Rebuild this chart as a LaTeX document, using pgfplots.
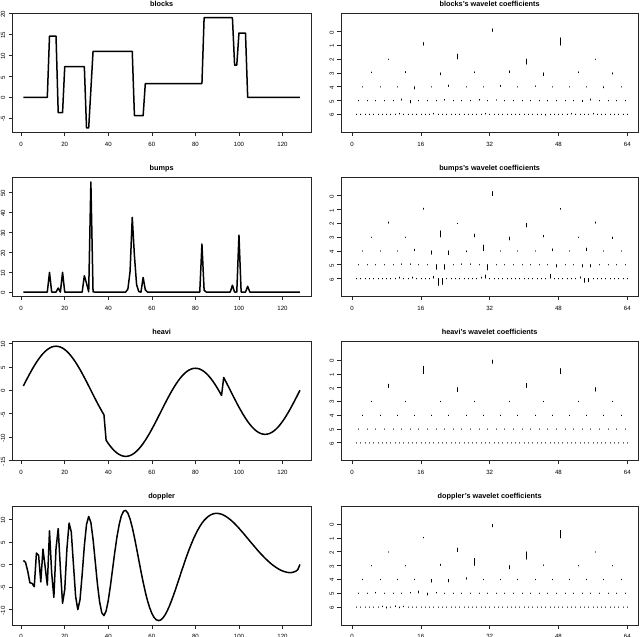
\documentclass[border=0pt]{standalone}
\usepackage{fontspec}
\setmainfont{Liberation Sans}
\usepackage{pgfplots}
\usepackage{pgfplotstable}
\pgfplotsset{compat=1.18}

% wavelet coefficients: position, level, then one column per signal
\pgfplotstableread{
x lev vb vu vh vd
32.5 0 -0.2 -0.3 0.25 0.2
16.5 1 -0.2 -0.1 -0.55 -0.05
48.5 1 -0.55 -0.08 -0.38 -0.55
8.5 2 0.04 -0.1 -0.25 0.04
24.5 2 -0.37 0.04 0.3 -0.27
40.5 2 0.38 0.28 -0.3 0.55
56.5 2 0.04 -0.1 0.27 0.04
4.5 3 -0.06 0.04 0.04 0.04
12.5 3 -0.1 0.04 0.04 0.04
20.5 3 0.15 -0.45 0.04 -0.1
28.5 3 -0.08 -0.22 0.04 -0.52
36.5 3 -0.15 0.22 0.04 0.25
44.5 3 0.22 -0.12 0.04 -0.06
52.5 3 -0.08 0.04 0.04 0.04
60.5 3 0.1 0.12 0.04 0.04
2.5 4 0.04 0.04 0.04 0.04
6.5 4 0.04 0.04 0.04 0.04
10.5 4 0.04 0.04 0.04 0.04
14.5 4 0.18 -0.12 0.04 0.04
18.5 4 0.04 0.25 0.04 0.22
22.5 4 -0.12 0.28 0.04 0.2
26.5 4 0.04 0.08 0.04 -0.12
30.5 4 0.04 -0.42 0.04 0.04
34.5 4 -0.1 0.04 0.04 0.04
38.5 4 0.04 0.04 0.04 0.04
42.5 4 -0.06 0.04 0.04 0.04
46.5 4 0.04 -0.15 0.04 0.04
50.5 4 0.04 0.04 0.04 0.04
54.5 4 0.04 -0.2 0.04 0.04
58.5 4 0.1 0.04 0.04 0.04
62.5 4 0.04 0.04 0.04 0.04
1.5 5 0.04 0.04 0.04 0.04
3.5 5 0.04 0.04 0.04 0.04
5.5 5 0.04 0.04 0.04 -0.06
7.5 5 0.04 0.04 0.04 0.04
9.5 5 0.04 0.04 0.04 0.04
11.5 5 -0.1 -0.06 0.04 0.04
13.5 5 0.2 -0.06 0.04 -0.06
15.5 5 0.04 0.04 0.04 -0.15
17.5 5 0.04 0.04 0.04 0.15
19.5 5 0.04 0.35 0.04 -0.05
21.5 5 -0.08 0.35 0.04 0.04
23.5 5 0.04 0.04 0.04 0.04
25.5 5 0.04 -0.06 0.04 0.04
27.5 5 0.04 -0.06 0.04 0.04
29.5 5 -0.08 0.04 0.04 0.04
31.5 5 0.04 0.4 0.04 0.04
33.5 5 -0.05 0.04 0.04 0.04
35.5 5 0.04 0.04 0.04 0.04
37.5 5 0.04 0.04 0.04 0.04
39.5 5 0.04 0.04 0.04 0.04
41.5 5 0.04 0.04 0.04 0.04
43.5 5 0.04 0.04 0.04 0.04
45.5 5 0.05 0.04 0.04 0.04
47.5 5 0.04 0.18 0.04 0.04
49.5 5 0.04 0.04 0.04 0.04
51.5 5 0.04 0.04 0.04 0.04
53.5 5 0.1 0.18 0.04 0.04
55.5 5 -0.1 0.18 0.04 0.04
57.5 5 0.04 0.04 0.04 0.04
59.5 5 0.04 0.04 0.04 0.04
61.5 5 0.04 0.04 0.04 0.04
63.5 5 0.04 0.04 0.04 0.04
1 6 0.04 0.04 0.04 0.04
2 6 0.04 0.04 0.04 0.04
3 6 0.04 0.04 0.04 0.04
4 6 0.04 0.04 0.04 0.04
5 6 0.04 0.04 0.04 0.04
6 6 0.04 0.04 0.04 0.04
7 6 0.04 0.04 0.04 -0.06
8 6 0.04 0.04 0.04 0.1
9 6 0.04 0.04 0.04 0.04
10 6 0.04 0.04 0.04 -0.08
11 6 -0.06 -0.1 0.04 0.08
12 6 0.04 0.04 0.04 -0.05
13 6 0.04 0.04 0.04 0.04
14 6 0.04 -0.1 0.04 0.04
15 6 0.04 0.04 0.04 0.04
16 6 0.04 0.04 0.04 0.04
17 6 0.04 0.04 0.04 0.04
18 6 0.04 0.04 0.04 0.04
19 6 -0.06 -0.15 0.04 0.04
20 6 0.04 0.52 0.04 0.04
21 6 0.04 0.45 0.04 0.04
22 6 0.04 0.04 0.04 0.04
23 6 0.04 0.04 0.04 0.04
24 6 0.04 0.04 0.04 0.04
25 6 0.04 0.04 0.04 0.04
26 6 0.04 0.04 0.04 0.04
27 6 0.04 0.04 0.04 0.04
28 6 0.04 0.04 0.04 0.04
29 6 0.04 0.04 0.04 0.04
30 6 0.04 -0.1 0.04 0.04
31 6 -0.06 -0.25 0.04 0.04
32 6 0.04 0.04 0.04 0.04
33 6 0.04 0.04 0.04 0.04
34 6 0.04 0.04 0.04 0.04
35 6 0.04 0.04 0.04 0.04
36 6 0.04 0.04 0.04 0.04
37 6 0.04 0.04 0.04 0.04
38 6 0.04 0.04 0.04 0.04
39 6 0.04 0.04 0.04 0.04
40 6 0.04 0.04 0.04 0.04
41 6 0.04 0.04 0.04 0.04
42 6 0.04 0.04 0.04 0.04
43 6 0.04 0.04 0.04 0.04
44 6 0.04 0.04 0.04 0.04
45 6 0.08 0.04 0.04 0.04
46 6 0.04 -0.3 0.04 0.04
47 6 0.04 0.04 0.04 0.04
48 6 0.04 0.04 0.04 0.04
49 6 0.04 0.04 0.04 0.04
50 6 0.04 0.04 0.04 0.04
51 6 -0.06 0.04 0.04 0.04
52 6 0.04 0.04 0.04 0.04
53 6 0.04 -0.12 0.04 0.04
54 6 0.04 0.3 0.04 0.04
55 6 0.04 0.25 0.04 0.04
56 6 -0.06 0.04 0.04 0.04
57 6 0.04 0.04 0.04 0.04
58 6 0.04 0.04 0.04 0.04
59 6 0.04 0.04 0.04 0.04
60 6 0.04 0.04 0.04 0.04
61 6 0.04 0.04 0.04 0.04
62 6 0.04 0.04 0.04 0.04
63 6 0.04 0.04 0.04 0.04
64 6 0.04 0.04 0.04 0.04
}\coef

\pgfplotsset{
  base/.style={
    scale only axis, height=119pt,
    axis line style={line width=0.6pt, black!85},
    tick align=outside, major tick length=3.6pt,
    tick style={black!85, line width=0.5pt},
    xtick pos=bottom, ytick pos=left,
    /pgf/number format/assume math mode=true,
    ticklabel style={font=\fontsize{6.1}{7}\selectfont},
    yticklabel style={rotate=90, anchor=south, xshift=-1pt},
    xticklabel style={yshift=-2.5pt},
    title style={font=\bfseries\fontsize{7.3}{8}\selectfont, at={(0.5,1)}, anchor=base, yshift=1pt},
  },
  sig/.style={base, width=298.7pt, xmin=-4.08, xmax=133.08, xtick={0,20,...,120}},
  wc/.style={base, width=297.3pt, xmin=-2.56, xmax=66.56, ymin=-1.32, ymax=7.32,
    y dir=reverse, xtick={0,16,32,48,64}, ytick={0,...,6}},
  sigline/.style={black, line width=1.5pt, line join=round},
  seg/.style={black, line width=0.6pt, line cap=round, -},
}

\begin{document}
\begin{tikzpicture}
\useasboundingbox (0,0) rectangle (640pt,637pt);

% ---------- row 1: blocks
\begin{axis}[sig, at={(12.3pt,623.7pt)}, anchor=north west, title={blocks},
  ymin=-8.36, ymax=20.06, ytick={-5,0,...,20}]
\addplot[sigline] coordinates {
(1,0) (12,0) (13,14.62) (16,14.62) (17,-3.655) (19,-3.655) (20,7.31) (29,7.31)
(30,-7.31) (31,-7.31) (32,1.83) (33,10.965) (51,10.965) (52,-4.386) (56,-4.386)
(57,3.29) (83,3.29) (84,19.006) (97,19.006) (98,7.676) (99,7.676) (100,15.351)
(103,15.351) (104,0) (128,0)};
\end{axis}
\begin{axis}[wc, at={(341pt,623.7pt)}, anchor=north west, title={blocks's wavelet coefficients}]
\addplot[seg, quiver={u=0, v=\thisrow{vb}}] table[x=x, y=lev] {\coef};
\end{axis}

% ---------- row 2: bumps
\begin{axis}[sig, at={(12.3pt,459.5pt)}, anchor=north west, title={bumps},
  ymin=-2.21, ymax=57.51, ytick={0,10,...,50}]
\addplot[sigline] coordinates {
(1,0) (12,0) (13,9.88) (14,0) (16,0) (17,2.026) (18,0) (19,9.928) (20,0) (28,0)
(29,8.205) (30,4.429) (31,0.127) (32,55.3) (33,0.127) (34,0) (48,0.036) (49,1.545)
(50,10.378) (51,37.505) (52,18.247) (53,3.7) (54,0.25) (55,0) (56,7.349) (57,1.121)
(58,0) (82,0) (83,24.103) (84,0.94) (85,0) (96,0) (97,3.432) (98,0) (99,0.059)
(100,28.588) (101,0) (103,0) (104,2.903) (105,0) (128,0)};
\end{axis}
\begin{axis}[wc, at={(341pt,459.5pt)}, anchor=north west, title={bumps's wavelet coefficients}]
\addplot[seg, quiver={u=0, v=\thisrow{vu}}] table[x=x, y=lev] {\coef};
\end{axis}

% ---------- row 3: heavi
\begin{axis}[sig, at={(12.3pt,295.2pt)}, anchor=north west, title={heavi},
  ymin=-15.04, ymax=10.34, ytick={-15,-10,...,10}]
\addplot[sigline] coordinates {
(1,0.921) (2,1.834) (3,2.729) (4,3.597) (5,4.431) (6,5.222) (7,5.963) (8,6.647)
(9,7.266) (10,7.816) (11,8.290) (12,8.684) (13,8.995) (14,9.219) (15,9.355) (16,9.4)
(17,9.355) (18,9.219) (19,8.995) (20,8.684) (21,8.290) (22,7.816) (23,7.266) (24,6.647)
(25,5.963) (26,5.222) (27,4.431) (28,3.597) (29,2.729) (30,1.834) (31,0.921) (32,0)
(33,-0.921) (34,-1.834) (35,-2.729) (36,-3.597) (37,-4.431) (38,-5.222) (39,-10.663) (40,-11.347)
(41,-11.966) (42,-12.516) (43,-12.990) (44,-13.384) (45,-13.695) (46,-13.919) (47,-14.055) (48,-14.1)
(49,-14.055) (50,-13.919) (51,-13.695) (52,-13.384) (53,-12.990) (54,-12.516) (55,-11.966) (56,-11.347)
(57,-10.663) (58,-9.922) (59,-9.131) (60,-8.297) (61,-7.429) (62,-6.534) (63,-5.621) (64,-4.7)
(65,-3.779) (66,-2.866) (67,-1.971) (68,-1.103) (69,-0.269) (70,0.522) (71,1.263) (72,1.947)
(73,2.566) (74,3.116) (75,3.590) (76,3.984) (77,4.295) (78,4.519) (79,4.655) (80,4.7)
(81,4.655) (82,4.519) (83,4.295) (84,3.984) (85,3.590) (86,3.116) (87,2.566) (88,1.947)
(89,1.263) (90,0.522) (91,-0.269) (92,-1.103) (93,2.729) (94,1.834) (95,0.921) (96,0)
(97,-0.921) (98,-1.834) (99,-2.729) (100,-3.597) (101,-4.431) (102,-5.222) (103,-5.963) (104,-6.647)
(105,-7.266) (106,-7.816) (107,-8.290) (108,-8.684) (109,-8.995) (110,-9.219) (111,-9.355) (112,-9.4)
(113,-9.355) (114,-9.219) (115,-8.995) (116,-8.684) (117,-8.290) (118,-7.816) (119,-7.266) (120,-6.647)
(121,-5.963) (122,-5.222) (123,-4.431) (124,-3.597) (125,-2.729) (126,-1.834) (127,-0.921) (128,0)};
\end{axis}
\begin{axis}[wc, at={(341pt,295.2pt)}, anchor=north west, title={heavi's wavelet coefficients}]
\addplot[seg, quiver={u=0, v=\thisrow{vh}}] table[x=x, y=lev] {\coef};
\end{axis}

% ---------- row 4: doppler
\begin{axis}[sig, at={(12.3pt,131pt)}, anchor=north west, title={doppler},
  ymin=-13.37, ymax=12.93, ytick={-10,-5,...,10}]
\addplot[sigline] coordinates {
(1,0.898) (2,0.46) (3,-1.469) (4,-4.036) (5,-4.161) (6,-4.917) (7,2.543) (8,2.053)
(9,-3.853) (10,3.408) (11,-0.502) (12,-4.559) (13,7.443) (14,-1.877) (15,-7.259) (16,3.557)
(17,7.944) (18,-0.886) (19,-8.574) (20,-5.569) (21,3.485) (22,9.175) (23,7.185) (24,0)
(25,-7.06) (26,-9.976) (27,-7.818) (28,-2.236) (29,4.122) (30,8.851) (31,10.624) (32,9.3)
(33,5.603) (34,0.688) (35,-4.266) (36,-8.221) (37,-10.649) (38,-11.302) (39,-10.286) (40,-7.898)
(41,-4.632) (42,-0.914) (43,2.814) (44,6.155) (45,8.827) (46,10.749) (47,11.784) (48,11.955)
(49,11.342) (50,10.051) (51,8.234) (52,5.998) (53,3.551) (54,1.003) (55,-1.497) (56,-3.904)
(57,-6.069) (58,-7.985) (59,-9.552) (60,-10.793) (61,-11.683) (62,-12.202) (63,-12.397) (64,-12.274)
(65,-11.862) (66,-11.196) (67,-10.305) (68,-9.255) (69,-8.028) (70,-6.706) (71,-5.326) (72,-3.883)
(73,-2.406) (74,-0.961) (75,0.469) (76,1.864) (77,3.163) (78,4.375) (79,5.547) (80,6.591)
(81,7.54) (82,8.385) (83,9.124) (84,9.743) (85,10.245) (86,10.654) (87,10.961) (88,11.169)
(89,11.28) (90,11.302) (91,11.242) (92,11.108) (93,10.902) (94,10.628) (95,10.294) (96,9.922)
(97,9.5) (98,9.042) (99,8.534) (100,8.023) (101,7.46) (102,6.919) (103,6.333) (104,5.758)
(105,5.172) (106,4.607) (107,4.04) (108,3.475) (109,2.914) (110,2.376) (111,1.894) (112,1.382)
(113,0.931) (114,0.486) (115,0.07) (116,-0.29) (117,-0.63) (118,-0.938) (119,-1.21) (120,-1.422)
(121,-1.592) (122,-1.715) (123,-1.785) (124,-1.776) (125,-1.692) (126,-1.505) (127,-1.154) (128,0)};
\end{axis}
\begin{axis}[wc, at={(341pt,131pt)}, anchor=north west, title={doppler's wavelet coefficients}]
\addplot[seg, quiver={u=0, v=\thisrow{vd}}] table[x=x, y=lev] {\coef};
\end{axis}
\end{tikzpicture}
\end{document}
